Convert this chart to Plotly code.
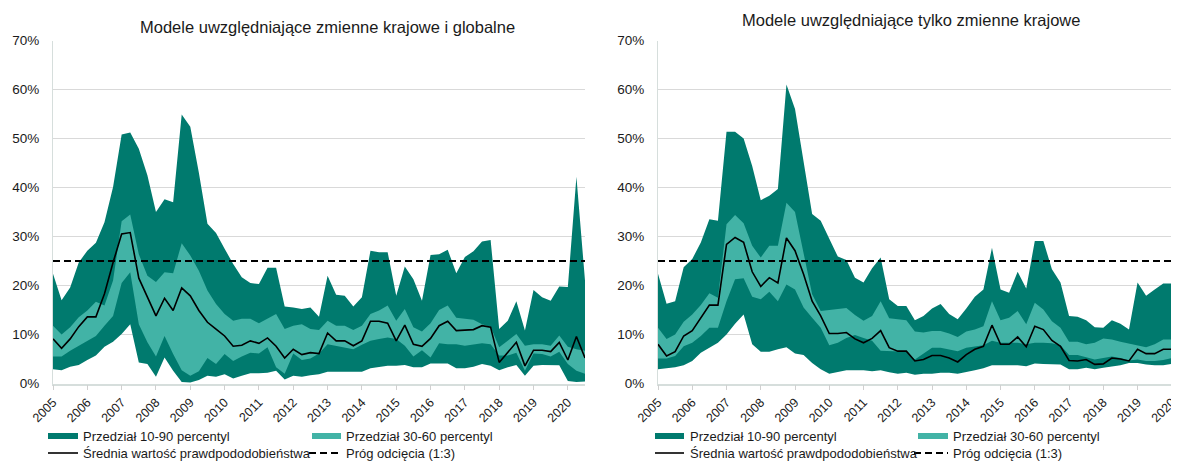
import plotly.graph_objects as go
from plotly.subplots import make_subplots

# quarterly data, 2005Q1 onwards, values in %
years = list(range(2005, 2021))
threshold = 25.0

# panel 1: domestic + global variables (2005Q1 - 2020Q3)
glob_p90 = [22.4, 17.0, 19.6, 24.7, 27.1, 28.7, 32.9, 40.1, 50.8, 51.2,
            47.9, 42.5, 35.0, 37.6, 37.0, 54.9, 52.4, 43.0, 32.6, 30.7,
            27.5, 24.4, 21.7, 20.5, 20.3, 23.6, 23.6, 15.7, 15.5, 15.2,
            15.5, 13.6, 22.0, 18.1, 17.9, 15.7, 17.6, 27.1, 26.8, 26.8,
            17.9, 23.9, 21.3, 16.9, 26.2, 26.4, 27.3, 22.5, 25.8, 27.0,
            29.0, 29.3, 11.1, 12.8, 16.8, 10.8, 19.1, 17.6, 16.9, 19.8,
            19.7, 42.2, 21.0]
glob_p60 = [11.8, 10.0, 11.5, 13.5, 14.9, 16.7, 15.9, 21.0, 33.1, 34.5,
            26.4, 22.0, 20.7, 22.7, 22.5, 28.6, 26.1, 23.0, 19.0, 16.2,
            14.2, 12.8, 13.2, 13.2, 12.3, 13.2, 14.2, 11.1, 11.8, 12.1,
            11.1, 10.9, 12.8, 11.8, 11.8, 10.9, 11.8, 14.2, 14.9, 15.9,
            12.8, 15.2, 11.5, 10.6, 12.3, 15.0, 15.9, 13.4, 13.2, 13.0,
            12.1, 11.6, 7.4, 8.7, 10.1, 7.7, 8.0, 8.0, 7.7, 9.8,
            7.5, 7.0, 6.7]
glob_p30 = [5.5, 5.5, 6.7, 7.7, 8.7, 9.7, 11.8, 13.8, 20.5, 22.7,
            12.1, 8.4, 5.5, 9.7, 6.0, 2.7, 1.6, 2.5, 5.2, 4.0,
            6.0, 4.6, 5.5, 6.3, 6.1, 7.4, 3.3, 2.0, 6.1, 4.8,
            5.1, 6.1, 8.0, 7.7, 7.4, 7.0, 7.9, 8.7, 9.1, 9.4,
            9.1, 7.7, 5.5, 6.8, 5.3, 8.2, 8.0, 8.0, 7.7, 8.0,
            8.2, 8.0, 5.7, 5.7, 6.3, 2.6, 6.1, 6.0, 5.5, 6.5,
            4.0, 2.6, 2.0]
glob_p10 = [2.9, 2.7, 3.4, 3.8, 4.8, 5.7, 7.5, 8.5, 10.1, 12.1,
            4.3, 4.0, 1.4, 5.3, 2.6, 0.3, 0.2, 0.7, 1.6, 1.4,
            1.9, 1.0, 1.6, 2.1, 2.1, 2.2, 2.6, 0.8, 1.6, 1.4,
            1.7, 1.9, 2.4, 2.4, 2.4, 2.4, 2.4, 3.1, 3.4, 3.6,
            3.6, 3.8, 3.3, 3.3, 4.1, 4.1, 4.1, 3.1, 3.1, 3.4,
            4.0, 3.6, 2.7, 3.3, 3.8, 1.6, 3.6, 3.8, 3.8, 3.7,
            0.5, 0.3, 0.4]
glob_mean = [9.1, 7.2, 9.1, 11.6, 13.6, 13.6, 18.3, 24.7, 30.5, 30.8,
             21.5, 17.6, 13.8, 17.4, 14.9, 19.5, 17.9, 14.9, 12.5, 11.1,
             9.7, 7.6, 7.8, 8.7, 8.2, 9.3, 7.6, 5.2, 7.0, 5.9,
             6.3, 6.1, 10.3, 8.7, 8.7, 7.7, 8.7, 12.7, 12.7, 12.3,
             8.7, 11.9, 8.0, 7.6, 9.2, 11.8, 12.7, 10.8, 10.9, 11.0,
             11.8, 11.5, 4.3, 6.3, 8.4, 3.6, 6.8, 6.8, 6.5, 8.4,
             4.8, 9.6, 5.2]

# panel 2: domestic variables only (2005Q1 - 2020Q2)
dom_p90 = [22.4, 16.3, 16.8, 23.7, 25.4, 28.8, 33.5, 33.2, 51.4, 51.4,
           50.0, 44.4, 37.4, 38.3, 39.7, 61.0, 56.0, 45.5, 34.6, 33.2,
           29.6, 25.9, 25.2, 21.6, 20.6, 23.5, 25.7, 17.2, 15.8, 15.8,
           12.9, 13.8, 15.3, 16.2, 14.2, 13.1, 15.3, 17.7, 19.2, 27.7,
           19.2, 18.5, 22.8, 19.4, 29.1, 29.1, 23.3, 20.6, 13.8, 13.6,
           12.9, 11.5, 11.4, 12.9, 12.2, 11.0, 20.6, 17.9, 19.2, 20.4,
           20.4, 38.5]
dom_p60 = [11.4, 9.1, 10.0, 12.6, 14.1, 16.0, 18.4, 17.5, 32.5, 34.4,
           32.7, 28.1, 25.7, 28.1, 28.1, 36.9, 35.0, 26.4, 18.2, 14.8,
           15.0, 15.2, 15.4, 14.0, 12.8, 13.8, 16.8, 13.3, 13.1, 12.9,
           10.6, 10.4, 10.7, 10.7, 10.2, 9.5, 10.6, 11.0, 11.7, 16.8,
           12.9, 13.4, 14.8, 12.1, 16.5, 15.1, 12.7, 11.4, 8.5, 8.5,
           8.0, 8.3, 9.2, 9.0, 8.5, 8.1, 7.8, 7.4, 8.0, 9.0,
           9.0, 14.5]
dom_p30 = [5.1, 5.1, 5.6, 7.6, 8.3, 9.7, 11.4, 11.4, 16.8, 21.3,
           21.5, 17.7, 17.2, 18.7, 16.8, 20.2, 19.2, 15.5, 13.4, 11.4,
           7.8, 8.3, 9.3, 9.9, 9.3, 8.7, 6.7, 6.6, 6.5, 6.5,
           4.9, 6.1, 7.3, 7.3, 7.0, 6.6, 7.3, 7.6, 7.8, 8.7,
           8.3, 8.3, 8.3, 8.0, 8.3, 8.3, 8.2, 7.8, 5.8, 5.8,
           5.4, 4.9, 5.2, 5.5, 5.2, 4.7, 4.9, 4.6, 4.6, 4.8,
           5.2, 6.5]
dom_p10 = [2.9, 3.1, 3.3, 3.7, 4.6, 6.3, 7.3, 8.3, 10.0, 12.2,
           14.1, 8.0, 6.5, 6.5, 7.0, 7.4, 6.1, 5.8, 4.2, 2.9,
           2.0, 2.3, 2.7, 2.7, 2.7, 2.5, 2.7, 2.3, 2.0, 2.2,
           1.8, 2.0, 2.0, 2.2, 2.2, 2.0, 2.3, 2.7, 3.1, 3.7,
           3.7, 3.7, 3.7, 3.5, 4.1, 4.0, 4.0, 3.9, 2.9, 2.9,
           3.2, 2.9, 3.2, 3.5, 3.7, 4.2, 4.2, 3.9, 3.7, 3.7,
           4.0, 5.0]
dom_mean = [8.0, 5.6, 6.5, 9.7, 10.8, 13.4, 16.0, 16.0, 28.4, 29.8,
            28.8, 22.8, 19.8, 21.6, 20.5, 29.7, 27.1, 22.3, 16.8, 13.8,
            10.2, 10.2, 10.4, 9.1, 8.3, 9.2, 10.8, 7.3, 6.6, 6.6,
            4.6, 4.9, 5.7, 5.7, 5.2, 4.4, 5.9, 7.0, 7.6, 11.9,
            8.0, 8.0, 9.5, 7.5, 11.7, 11.0, 8.8, 7.6, 4.7, 4.6,
            4.9, 3.9, 4.0, 5.2, 5.0, 4.6, 7.0, 6.1, 6.1, 7.0,
            7.0, 13.5]

DARK = "#007a6e"
LIGHT = "#42b3a6"
# the page body keeps its default 8px margin, so the figure is 8px smaller
OFF = 8
W, H = 1179 - OFF, 461 - OFF
FONT = "Liberation Sans, Arial, sans-serif"


def quarters(n):
    return [2005 + i / 4 for i in range(n)]


def add_panel(fig, col, p10, p30, p60, p90, mean):
    x = quarters(len(mean))
    fig.add_trace(go.Scatter(x=x, y=p10, mode="lines", line=dict(width=0), showlegend=False, hoverinfo="skip"), 1, col)
    fig.add_trace(go.Scatter(x=x, y=p90, mode="lines", line=dict(width=0), fill="tonexty",
                             fillcolor=DARK, showlegend=False), 1, col)
    fig.add_trace(go.Scatter(x=x, y=p30, mode="lines", line=dict(width=0), showlegend=False, hoverinfo="skip"), 1, col)
    fig.add_trace(go.Scatter(x=x, y=p60, mode="lines", line=dict(width=0), fill="tonexty",
                             fillcolor=LIGHT, showlegend=False), 1, col)
    fig.add_trace(go.Scatter(x=x, y=mean, mode="lines", line=dict(color="black", width=1.6),
                             showlegend=False), 1, col)
    fig.add_trace(go.Scatter(x=x, y=[threshold] * len(x), mode="lines",
                             line=dict(color="black", width=1.8, dash="7px,4px"), showlegend=False), 1, col)


fig = make_subplots(rows=1, cols=2)
add_panel(fig, 1, glob_p10, glob_p30, glob_p60, glob_p90, glob_mean)
add_panel(fig, 2, dom_p10, dom_p30, dom_p60, dom_p90, dom_mean)


# page pixel -> paper coordinates
def px(x):
    return (x - OFF) / W


def py(y):
    return 1 - (y - OFF) / H


xcommon = dict(tickmode="array", tickvals=years, ticktext=[str(y) for y in years],
               tickangle=-45, ticks="outside", ticklen=5, tickcolor="#d0d0d0",
               showline=True, linecolor="#d6dedc", linewidth=1.5, showgrid=False,
               zeroline=False, layer="below traces",
               tickfont=dict(family=FONT, size=12.5, color="#1a1a1a"), automargin=False)
ycommon = dict(range=[0, 70], dtick=10, ticksuffix="%", showgrid=True, gridcolor="#d9d9d9",
               gridwidth=1, zeroline=False, showline=True, linecolor="#d6dedc", linewidth=1,
               layer="below traces", ticks="", ticklabelstandoff=10,
               tickfont=dict(family=FONT, size=13.5, color="#1a1a1a"), automargin=False)

fig.update_xaxes(**xcommon)
fig.update_yaxes(**ycommon)
fig.update_xaxes(range=[2005, 2020.5], domain=[px(53), px(585)], row=1, col=1)
fig.update_xaxes(range=[2005, 2020.21], domain=[px(658), 1.0], row=1, col=2)
fig.update_yaxes(domain=[py(383.5), py(40.5)])

# titles
annotations = [
    dict(text="Modele uwzględniające zmienne krajowe i globalne", x=px(327), y=py(27)),
    dict(text="Modele uwzględniające tylko zmienne krajowe", x=px(911), y=py(20)),
]
for a in annotations:
    a.update(xref="paper", yref="paper", showarrow=False, xanchor="center", yanchor="middle",
             font=dict(family=FONT, size=16.5, color="#1a1a1a"))

# legends (one under each panel)
shapes = []
legend_font = dict(family=FONT, size=13, color="#1a1a1a")
for (x1, x2, tx1, x3, x4, x5, tx2) in [(48, 78, 81, 312, 341, 309, 344), (655, 684, 688, 918, 948, 914, 951)]:
    shapes.append(dict(type="rect", xref="paper", yref="paper", x0=px(x1), x1=px(x2), y0=py(439), y1=py(433),
                       fillcolor=DARK, line=dict(width=0)))
    shapes.append(dict(type="rect", xref="paper", yref="paper", x0=px(x3), x1=px(x4), y0=py(439), y1=py(433),
                       fillcolor=LIGHT, line=dict(width=0)))
    shapes.append(dict(type="line", xref="paper", yref="paper", x0=px(x1), x1=px(x2), y0=py(453), y1=py(453),
                       line=dict(color="black", width=1.6)))
    shapes.append(dict(type="line", xref="paper", yref="paper", x0=px(x5), x1=px(x4), y0=py(453), y1=py(453),
                       line=dict(color="black", width=1.8, dash="7px,4px")))
    for txt, tx, ty in [("Przedział 10-90 percentyl", tx1, 436), ("Przedział 30-60 percentyl", tx2, 436),
                        ("Średnia wartość prawdpododobieństwa", tx1, 453), ("Próg odcięcia (1:3)", tx2, 453)]:
        annotations.append(dict(text=txt, x=px(tx), y=py(ty), xref="paper", yref="paper", showarrow=False,
                                xanchor="left", yanchor="middle", font=legend_font))

fig.update_layout(width=W, height=H, margin=dict(l=0, r=0, t=0, b=0), plot_bgcolor="white",
                  paper_bgcolor="white", showlegend=False, annotations=annotations, shapes=shapes,
                  font=dict(family=FONT))
fig.write_html("out.html")
